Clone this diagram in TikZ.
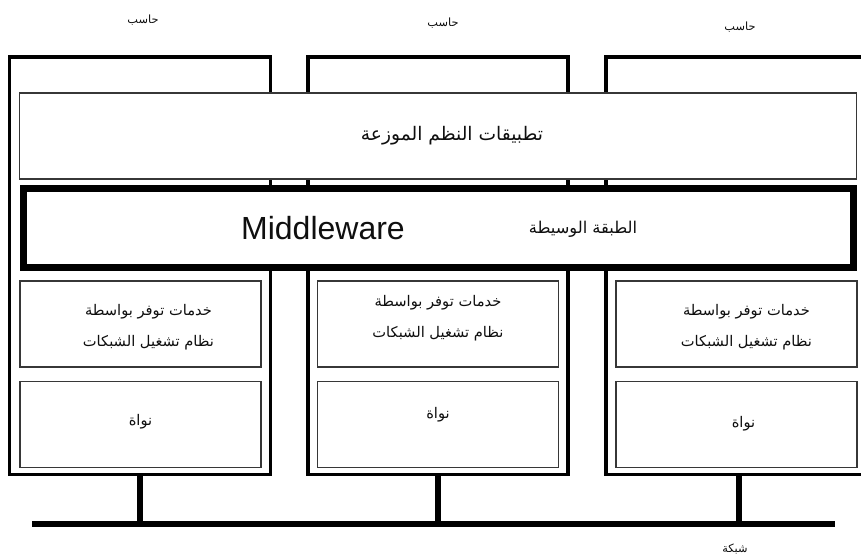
\documentclass[tikz,border=0pt]{standalone}
\usepackage{fontspec}
\usetikzlibrary{positioning,calc}
\newfontfamily\arabicfont[Script=Arabic]{DejaVu Sans}
\newfontfamily\latinsans{Liberation Sans}
\TeXXeTstate=1
\definecolor{BoxGray}{RGB}{55,55,55}
\definecolor{InkBlack}{RGB}{15,15,15}
\tikzset{
  computer/.style={draw=black,line width=2.7pt,minimum height=313pt},
  layer/.style={draw=BoxGray,fill=white,line width=0.8pt,minimum width=627.75pt,
    minimum height=64.5pt,align=center},
  midlayer/.style={draw=black,fill=white,line width=5.25pt,minimum width=622.5pt,
    minimum height=59.25pt},
  osbox/.style={draw=BoxGray,fill=white,line width=0.8pt,minimum width=180.75pt,
    minimum height=64.5pt,align=center},
  arlabel/.style={text=InkBlack,font=\arabicfont\fontsize{8.5}{10}\selectfont},
  artext/.style={text=InkBlack,align=center,font=\arabicfont\fontsize{11}{23}\selectfont},
  stub/.style={line width=4pt,black},
  network/.style={line width=4.2pt,black}
}

\begin{document}
\begin{tikzpicture}[x=0.75pt,y=-0.75pt]
  \useasboundingbox (0,0) rectangle (861,558);
  \clip (0,0) rectangle (861,558);
  % computers
  \node[computer,minimum width=195.75pt] (comp1) at (140,265.75) {};
  \node[computer,minimum width=195pt] (comp2) at (438,265.75) {};
  \node[computer,minimum width=199.5pt] (comp3) at (739,265.75) {};
  \node[arlabel] (name1) at (143,20) {\beginR حاسب\endR};
  \node[arlabel] (name2) at (443,23) {\beginR حاسب\endR};
  \node[arlabel] (name3) at (740,27) {\beginR حاسب\endR};
  % shared layers
  \node[layer] (apps) at (438,136) {};
  \node[artext,font=\arabicfont\fontsize{14}{16}\selectfont] (appstext) at (452,136) {\beginR تطبيقات النظم الموزعة\endR};
  \node[midlayer] (mw) at (438,228) {};
  \node[font=\latinsans\fontsize{24}{28}\selectfont,text=InkBlack] (mwlatin) at (323,228) {Middleware};
  \node[artext,font=\arabicfont\fontsize{12.2}{14}\selectfont] (mwarabic) at (583,229) {\beginR الطبقة الوسيطة\endR};
  % per-computer layers
  \node[osbox] (svc1) at (140.5,324) {};
  \node[osbox] (svc2) at (438,324) {};
  \node[osbox] (svc3) at (736.5,324) {};
  \node[osbox,below=10pt of svc1] (kern1) {};
  \node[osbox,below=10pt of svc2] (kern2) {};
  \node[osbox,below=10pt of svc3] (kern3) {};
  \node[artext] (svctext1) at ($(svc1.center)+(8,3)$) {\beginR خدمات توفر بواسطة\endR\\\beginR نظام تشغيل الشبكات\endR};
  \node[artext] (svctext2) at ($(svc2.center)+(0,-6)$) {\beginR خدمات توفر بواسطة\endR\\\beginR نظام تشغيل الشبكات\endR};
  \node[artext] (svctext3) at ($(svc3.center)+(10,3)$) {\beginR خدمات توفر بواسطة\endR\\\beginR نظام تشغيل الشبكات\endR};
  \node[artext] (kerntext1) at ($(kern1.center)+(0,-3)$) {\beginR نواة\endR};
  \node[artext] (kerntext2) at ($(kern2.center)+(0,-10)$) {\beginR نواة\endR};
  \node[artext] (kerntext3) at ($(kern3.center)+(7,-1)$) {\beginR نواة\endR};
  % network
  \coordinate (netL) at (32,524);
  \coordinate (netR) at (835,524);
  \draw[network] (netL) -- (netR);
  \draw[stub] (comp1.south) -- (comp1.south |- netL);
  \draw[stub] (comp2.south) -- (comp2.south |- netL);
  \draw[stub] (comp3.south) -- (comp3.south |- netL);
  \node[arlabel] (netname) at (735,549) {\beginR شبكة\endR};
\end{tikzpicture}
\end{document}
